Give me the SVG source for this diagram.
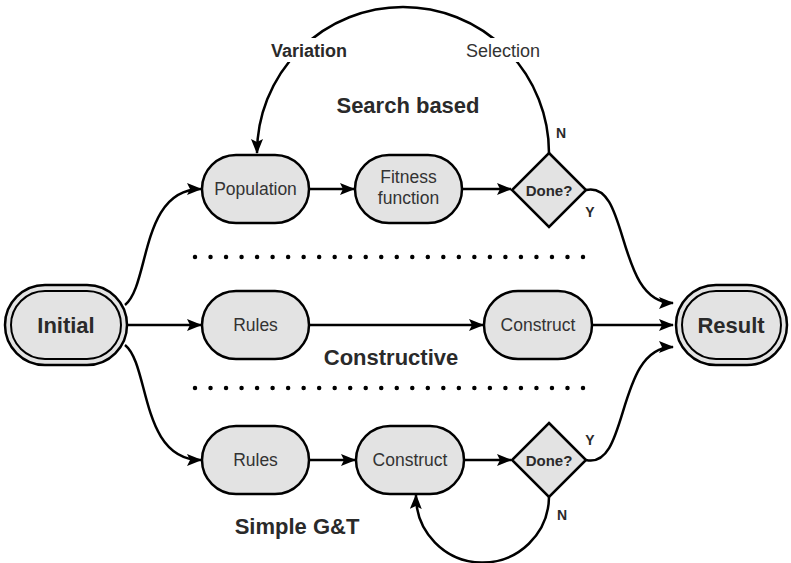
<svg xmlns="http://www.w3.org/2000/svg" width="791" height="563" viewBox="0 0 791 563">
<style>
.n{fill:#e3e3e3;stroke:#000;stroke-width:2.5}
.dn{fill:none;stroke:#000;stroke-width:2}
.t{font-family:"Liberation Sans",Arial,sans-serif;font-size:17.5px;fill:#333;text-anchor:middle}
.b{font-family:"Liberation Sans",Arial,sans-serif;font-weight:bold;fill:#2a2a2a;text-anchor:middle}
.e{fill:none;stroke:#000;stroke-width:2.5}
.dots{fill:none;stroke:#000;stroke-width:4.5;stroke-linecap:round;stroke-dasharray:0 15.52}
</style>
<defs>
<marker id="ar" viewBox="0 0 15 12" markerWidth="15" markerHeight="12" refX="14" refY="6" orient="auto" markerUnits="userSpaceOnUse">
<path d="M0,0 L15,6 L0,12 L3,6 z" fill="#000"/>
</marker>
</defs>
<rect width="791" height="563" fill="#fff"/>

<g id="dividers">
<line class="dots" x1="195" y1="257" x2="585" y2="257"/>
<line class="dots" x1="195" y1="388" x2="585" y2="388"/>
</g>

<g id="connectors">
<path class="e" d="M125,305 C150,285 140,189 201,189" marker-end="url(#ar)"/>
<path class="e" d="M127,325 L201,325" marker-end="url(#ar)"/>
<path class="e" d="M125,345 C150,365 140,460 201,460" marker-end="url(#ar)"/>
<path class="e" d="M309,189 L354,189" marker-end="url(#ar)"/>
<path class="e" d="M462,189 L511,189" marker-end="url(#ar)"/>
<path class="e" d="M549,153 A146,146 0 0 0 257,153" marker-end="url(#ar)"/>
<path class="e" d="M586,190 C630,180 615,303 673,303" marker-end="url(#ar)"/>
<path class="e" d="M309,325 L483,325" marker-end="url(#ar)"/>
<path class="e" d="M592,325 L673,325" marker-end="url(#ar)"/>
<path class="e" d="M309,460 L355,460" marker-end="url(#ar)"/>
<path class="e" d="M464,460 L511,460" marker-end="url(#ar)"/>
<path class="e" d="M586,460 C630,470 615,347 673,347" marker-end="url(#ar)"/>
<path class="e" d="M549,497 A66.5,66.5 0 0 1 416,495" marker-end="url(#ar)"/>
</g>

<g id="edge-labels">
<rect x="266" y="38" width="86" height="24" fill="#fff"/>
<text class="b" x="309" y="56.5" font-size="18">Variation</text>
<rect x="462" y="38" width="82" height="24" fill="#fff"/>
<text x="503" y="56.5" font-family="'Liberation Sans',Arial,sans-serif" font-size="18" fill="#333" text-anchor="middle">Selection</text>
<text class="b" x="561" y="138" font-size="14">N</text>
<text class="b" x="590" y="217" font-size="14">Y</text>
<text class="b" x="590" y="445" font-size="14">Y</text>
<text class="b" x="562" y="520" font-size="14">N</text>
</g>

<g id="section-labels">
<text class="b" x="408" y="113" font-size="22">Search based</text>
<text class="b" x="391" y="365" font-size="22">Constructive</text>
<text class="b" x="297" y="534" font-size="22">Simple G&amp;T</text>
</g>

<g id="initial">
<rect class="n" x="5" y="285" width="122" height="80" rx="40"/>
<rect class="dn" x="11" y="291" width="110" height="68" rx="34"/>
<text class="b" x="66" y="333" font-size="22">Initial</text>
</g>

<g id="result">
<rect class="n" x="676" y="285" width="111" height="80" rx="40"/>
<rect class="dn" x="682" y="291" width="99" height="68" rx="34"/>
<text class="b" x="731" y="333" font-size="22">Result</text>
</g>

<g id="population">
<rect class="n" x="202" y="155" width="107" height="68" rx="34"/>
<text class="t" x="255.5" y="195">Population</text>
</g>

<g id="fitness">
<rect class="n" x="355" y="155" width="107" height="68" rx="34"/>
<text class="t" x="408.5" y="183" font-size="16">Fitness</text>
<text class="t" x="408.5" y="204" font-size="16">function</text>
</g>

<g id="done-top">
<polygon class="n" points="549,153 586,190 549,227 512,190"/>
<text class="b" x="549" y="195.5" font-size="15">Done?</text>
</g>

<g id="rules-mid">
<rect class="n" x="202" y="291" width="107" height="68" rx="34"/>
<text class="t" x="255.5" y="331">Rules</text>
</g>

<g id="construct-mid">
<rect class="n" x="484" y="291" width="108" height="68" rx="34"/>
<text class="t" x="538" y="331">Construct</text>
</g>

<g id="rules-bottom">
<rect class="n" x="202" y="426" width="107" height="68" rx="34"/>
<text class="t" x="255.5" y="466">Rules</text>
</g>

<g id="construct-bottom">
<rect class="n" x="356" y="426" width="108" height="68" rx="34"/>
<text class="t" x="410" y="466">Construct</text>
</g>

<g id="done-bottom">
<polygon class="n" points="549,423 586,460 549,497 512,460"/>
<text class="b" x="549" y="465.5" font-size="15">Done?</text>
</g>
</svg>
